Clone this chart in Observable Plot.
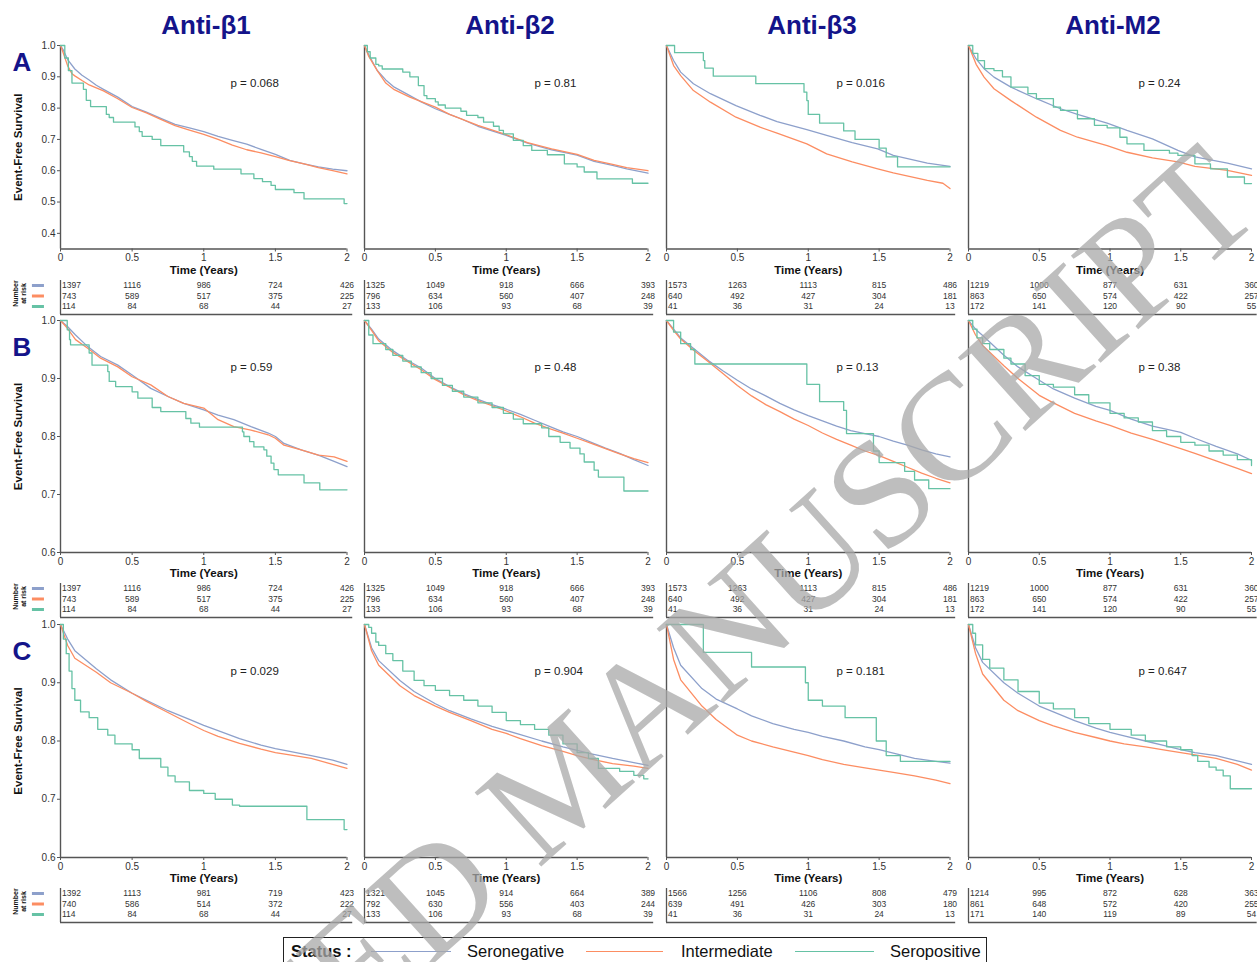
<!DOCTYPE html>
<html><head><meta charset="utf-8">
<script src="https://cdn.jsdelivr.net/npm/d3@7"></script>
<script src="https://cdn.jsdelivr.net/npm/@observablehq/plot@0.6"></script>
<style>
html,body{margin:0;padding:0;background:#fff;}
body{width:1257px;height:962px;overflow:hidden;position:relative;font-family:"Liberation Sans",Arial,sans-serif;}
#root{position:absolute;left:0;top:0;width:1257px;height:962px;}
.ttl{position:absolute;transform:translate(-50%,-50%);font-weight:bold;font-size:26px;color:#14148a;white-space:nowrap;}
.lg{position:absolute;top:937px;left:283px;width:704px;height:30px;border:1px solid #222;box-sizing:border-box;}
.lg span{position:absolute;top:13px;transform:translateY(-50%);font-size:16.5px;color:#111;white-space:nowrap;}
.lg .key{position:absolute;top:12.5px;height:1.5px;}
#wm{position:absolute;left:0;top:0;pointer-events:none;}
</style></head>
<body><div id="root"></div>
<script>
// ---------- data ----------
const antibodies = ["Anti-β1", "Anti-β2", "Anti-β3", "Anti-M2"];
const rowLabels = ["A", "B", "C"];
const statuses = ["Seronegative", "Intermediate", "Seropositive"];
const statusColors = ["#8da0cb", "#fc8d62", "#66c2a5"];
const xTicks = [0, 0.5, 1, 1.5, 2];
const yTicksA = [0.4, 0.5, 0.6, 0.7, 0.8, 0.9, 1.0];
const yTicksBC = [0.6, 0.7, 0.8, 0.9, 1.0];
const pValues = [
  ["p = 0.068", "p = 0.81", "p = 0.016", "p = 0.24"],
  ["p = 0.59", "p = 0.48", "p = 0.13", "p = 0.38"],
  ["p = 0.029", "p = 0.904", "p = 0.181", "p = 0.647"]
];

// Row A
const A1_neg = [[0,1],[0.02,0.985],[0.05,0.955],[0.1,0.925],[0.15,0.905],[0.2,0.89],[0.25,0.873],[0.3,0.86],[0.4,0.835],[0.5,0.805],[0.6,0.787],[0.7,0.767],[0.8,0.748],[0.9,0.737],[1.0,0.725],[1.1,0.71],[1.2,0.697],[1.3,0.685],[1.4,0.668],[1.5,0.652],[1.6,0.633],[1.7,0.622],[1.8,0.612],[1.9,0.605],[2.0,0.6]];
const A1_int = [[0,1],[0.02,0.975],[0.05,0.935],[0.08,0.91],[0.1,0.903],[0.15,0.888],[0.2,0.874],[0.3,0.855],[0.4,0.83],[0.5,0.802],[0.6,0.785],[0.7,0.764],[0.8,0.744],[0.9,0.73],[1.0,0.716],[1.1,0.7],[1.2,0.682],[1.3,0.667],[1.4,0.657],[1.5,0.645],[1.6,0.632],[1.7,0.622],[1.8,0.61],[1.9,0.6],[2.0,0.59]];
const A1_pos = [[0,1],[0.03,0.96],[0.055,0.92],[0.08,0.88],[0.16,0.86],[0.18,0.825],[0.21,0.805],[0.32,0.78],[0.34,0.77],[0.37,0.755],[0.52,0.74],[0.55,0.725],[0.57,0.71],[0.64,0.70],[0.70,0.68],[0.86,0.66],[0.9,0.645],[0.92,0.63],[0.95,0.615],[1.07,0.605],[1.26,0.59],[1.35,0.575],[1.41,0.565],[1.47,0.553],[1.5,0.54],[1.63,0.53],[1.7,0.51],[1.98,0.495],[2.0,0.495]];
const A2_neg = [[0,1],[0.03,0.97],[0.09,0.92],[0.15,0.89],[0.21,0.867],[0.32,0.84],[0.4,0.82],[0.5,0.798],[0.6,0.78],[0.68,0.766],[0.8,0.742],[0.9,0.727],[1.0,0.713],[1.15,0.688],[1.32,0.667],[1.5,0.65],[1.62,0.63],[1.75,0.617],[1.85,0.606],[2.0,0.592]];
const A2_int = [[0,1],[0.03,0.965],[0.09,0.92],[0.15,0.88],[0.21,0.859],[0.32,0.835],[0.5,0.803],[0.6,0.78],[0.8,0.745],[1.0,0.715],[1.15,0.69],[1.32,0.67],[1.5,0.652],[1.62,0.633],[1.75,0.62],[1.85,0.61],[2.0,0.6]];
const A2_pos = [[0,1],[0.02,0.98],[0.04,0.96],[0.08,0.94],[0.1,0.935],[0.125,0.925],[0.27,0.915],[0.32,0.9],[0.38,0.872],[0.42,0.84],[0.44,0.83],[0.5,0.82],[0.52,0.81],[0.57,0.8],[0.68,0.79],[0.72,0.777],[0.8,0.77],[0.84,0.755],[0.91,0.742],[0.95,0.729],[0.98,0.718],[1.05,0.697],[1.12,0.68],[1.18,0.665],[1.29,0.651],[1.41,0.622],[1.5,0.612],[1.55,0.596],[1.64,0.574],[1.89,0.56],[2.0,0.56]];
const A3_neg = [[0,1],[0.05,0.952],[0.1,0.915],[0.19,0.878],[0.31,0.846],[0.49,0.808],[0.66,0.777],[0.78,0.757],[0.99,0.731],[1.13,0.713],[1.31,0.69],[1.49,0.67],[1.6,0.649],[1.84,0.624],[2.0,0.614]];
const A3_int = [[0,1],[0.05,0.936],[0.1,0.904],[0.19,0.856],[0.31,0.819],[0.49,0.771],[0.66,0.739],[0.78,0.72],[0.99,0.686],[1.13,0.654],[1.31,0.628],[1.49,0.606],[1.6,0.593],[1.84,0.569],[1.95,0.56],[2.0,0.543]];
const A3_pos = [[0,1],[0.057,0.977],[0.26,0.952],[0.27,0.928],[0.33,0.902],[0.63,0.878],[0.97,0.851],[0.99,0.824],[1.0,0.78],[1.08,0.752],[1.25,0.727],[1.33,0.70],[1.5,0.672],[1.55,0.644],[1.63,0.612],[2.0,0.612]];
const A4_neg = [[0,1],[0.054,0.957],[0.11,0.926],[0.18,0.899],[0.3,0.867],[0.48,0.83],[0.65,0.798],[0.77,0.78],[0.98,0.752],[1.12,0.729],[1.3,0.702],[1.48,0.665],[1.6,0.644],[1.83,0.624],[2.0,0.606]];
const A4_int = [[0,1],[0.054,0.94],[0.11,0.899],[0.18,0.862],[0.3,0.824],[0.48,0.771],[0.65,0.729],[0.77,0.707],[0.98,0.68],[1.12,0.659],[1.3,0.641],[1.48,0.628],[1.6,0.614],[1.83,0.601],[2.0,0.585]];
const A4_pos = [[0,1],[0.03,0.975],[0.066,0.952],[0.113,0.926],[0.18,0.92],[0.24,0.9],[0.3,0.867],[0.42,0.846],[0.48,0.83],[0.6,0.803],[0.65,0.793],[0.77,0.766],[0.89,0.745],[0.98,0.737],[1.07,0.707],[1.12,0.686],[1.24,0.665],[1.42,0.656],[1.48,0.649],[1.6,0.622],[1.71,0.606],[1.83,0.58],[1.95,0.559],[2.0,0.559]];

// Row B
const B1_neg = [[0,1],[0.047,0.99],[0.105,0.975],[0.19,0.955],[0.28,0.938],[0.4,0.923],[0.5,0.906],[0.63,0.883],[0.75,0.869],[0.86,0.857],[1.0,0.846],[1.1,0.837],[1.21,0.829],[1.33,0.817],[1.45,0.806],[1.5,0.8],[1.56,0.788],[1.68,0.777],[1.8,0.768],[1.91,0.757],[2.0,0.748]];
const B1_int = [[0,1],[0.047,0.987],[0.105,0.967],[0.19,0.952],[0.28,0.935],[0.4,0.92],[0.5,0.903],[0.63,0.889],[0.75,0.869],[0.86,0.857],[1.0,0.849],[1.1,0.829],[1.21,0.817],[1.33,0.811],[1.45,0.803],[1.5,0.797],[1.56,0.785],[1.68,0.777],[1.8,0.768],[1.91,0.765],[2.0,0.757]];
const B1_pos = [[0,1],[0.047,0.984],[0.063,0.967],[0.07,0.958],[0.2,0.944],[0.22,0.923],[0.33,0.912],[0.34,0.895],[0.385,0.886],[0.5,0.877],[0.54,0.866],[0.64,0.85],[0.7,0.843],[0.875,0.831],[0.91,0.823],[0.97,0.816],[1.27,0.808],[1.28,0.8],[1.32,0.791],[1.35,0.782],[1.42,0.777],[1.44,0.766],[1.47,0.754],[1.49,0.743],[1.52,0.734],[1.7,0.72],[1.81,0.708],[2.0,0.708]];
const B2_neg = [[0,1],[0.05,0.985],[0.1,0.968],[0.2,0.948],[0.3,0.932],[0.4,0.918],[0.5,0.9],[0.6,0.886],[0.7,0.874],[0.8,0.864],[0.9,0.855],[1.0,0.847],[1.1,0.838],[1.2,0.828],[1.3,0.818],[1.4,0.808],[1.5,0.8],[1.6,0.79],[1.7,0.78],[1.8,0.771],[1.9,0.76],[2.0,0.75]];
const B2_int = [[0,1],[0.05,0.983],[0.1,0.965],[0.2,0.945],[0.3,0.93],[0.4,0.915],[0.5,0.898],[0.6,0.885],[0.7,0.872],[0.8,0.862],[0.9,0.853],[1.0,0.844],[1.1,0.834],[1.2,0.823],[1.3,0.814],[1.4,0.806],[1.5,0.797],[1.6,0.788],[1.7,0.779],[1.8,0.77],[1.9,0.762],[2.0,0.755]];
const B2_pos = [[0,1],[0.03,0.975],[0.06,0.96],[0.15,0.95],[0.2,0.94],[0.27,0.93],[0.33,0.92],[0.4,0.91],[0.47,0.9],[0.55,0.888],[0.62,0.878],[0.7,0.868],[0.8,0.858],[0.9,0.85],[0.98,0.84],[1.05,0.83],[1.12,0.822],[1.25,0.815],[1.3,0.8],[1.38,0.79],[1.45,0.78],[1.52,0.77],[1.55,0.756],[1.62,0.742],[1.65,0.73],[1.83,0.706],[2.0,0.706]];
const B3_neg = [[0,1],[0.05,0.985],[0.1,0.97],[0.2,0.95],[0.3,0.93],[0.4,0.913],[0.5,0.897],[0.6,0.882],[0.7,0.87],[0.8,0.857],[0.9,0.846],[1.0,0.836],[1.1,0.827],[1.2,0.818],[1.3,0.81],[1.4,0.805],[1.5,0.8],[1.6,0.792],[1.7,0.785],[1.8,0.777],[1.9,0.77],[2.0,0.765]];
const B3_int = [[0,1],[0.05,0.983],[0.1,0.968],[0.2,0.947],[0.3,0.928],[0.4,0.908],[0.5,0.888],[0.6,0.87],[0.7,0.855],[0.8,0.843],[0.9,0.83],[1.0,0.819],[1.1,0.806],[1.2,0.795],[1.3,0.785],[1.4,0.775],[1.5,0.767],[1.6,0.757],[1.7,0.747],[1.8,0.737],[1.9,0.728],[2.0,0.72]];
const B3_pos = [[0,1],[0.05,0.98],[0.1,0.96],[0.17,0.95],[0.2,0.925],[0.99,0.89],[1.08,0.86],[1.25,0.845],[1.27,0.805],[1.46,0.775],[1.5,0.755],[1.68,0.74],[1.75,0.725],[1.85,0.71],[2.0,0.71]];
const B4_neg = [[0,1],[0.05,0.985],[0.1,0.974],[0.25,0.94],[0.35,0.92],[0.5,0.897],[0.6,0.882],[0.75,0.866],[0.9,0.852],[1.0,0.845],[1.15,0.83],[1.3,0.818],[1.5,0.807],[1.6,0.797],[1.75,0.783],[1.9,0.77],[2.0,0.759]];
const B4_int = [[0,1],[0.05,0.975],[0.1,0.957],[0.25,0.922],[0.35,0.9],[0.5,0.871],[0.6,0.858],[0.75,0.84],[0.9,0.827],[1.0,0.819],[1.15,0.806],[1.3,0.795],[1.5,0.779],[1.6,0.771],[1.75,0.758],[1.9,0.745],[2.0,0.736]];
const B4_pos = [[0,1],[0.03,0.985],[0.06,0.97],[0.1,0.96],[0.15,0.95],[0.25,0.935],[0.3,0.925],[0.4,0.905],[0.5,0.89],[0.6,0.885],[0.75,0.872],[0.85,0.858],[1.0,0.84],[1.1,0.832],[1.2,0.825],[1.3,0.81],[1.4,0.8],[1.5,0.79],[1.6,0.785],[1.7,0.775],[1.8,0.768],[1.9,0.76],[2.0,0.75]];

// Row C
const C1_neg = [[0,1],[0.05,0.975],[0.1,0.955],[0.25,0.924],[0.35,0.905],[0.5,0.882],[0.6,0.87],[0.75,0.852],[0.9,0.837],[1.0,0.827],[1.1,0.818],[1.25,0.804],[1.4,0.793],[1.5,0.787],[1.6,0.782],[1.75,0.775],[1.9,0.767],[2.0,0.76]];
const C1_int = [[0,1],[0.05,0.964],[0.1,0.942],[0.25,0.918],[0.35,0.9],[0.5,0.882],[0.6,0.868],[0.75,0.849],[0.9,0.83],[1.0,0.818],[1.1,0.808],[1.25,0.796],[1.4,0.786],[1.5,0.78],[1.6,0.776],[1.75,0.77],[1.9,0.76],[2.0,0.753]];
const C1_pos = [[0,1],[0.02,0.975],[0.04,0.95],[0.06,0.92],[0.08,0.89],[0.1,0.87],[0.14,0.85],[0.2,0.84],[0.26,0.82],[0.33,0.81],[0.38,0.795],[0.5,0.785],[0.55,0.77],[0.7,0.755],[0.75,0.74],[0.8,0.73],[0.9,0.715],[1.0,0.71],[1.08,0.7],[1.2,0.69],[1.25,0.688],[1.72,0.665],[1.98,0.648],[2.0,0.648]];
const C2_neg = [[0,1],[0.05,0.96],[0.1,0.938],[0.25,0.904],[0.35,0.885],[0.5,0.864],[0.6,0.852],[0.75,0.838],[0.9,0.825],[1.0,0.818],[1.1,0.811],[1.25,0.8],[1.4,0.79],[1.5,0.784],[1.6,0.778],[1.75,0.77],[1.9,0.763],[2.0,0.758]];
const C2_int = [[0,1],[0.05,0.955],[0.1,0.93],[0.25,0.895],[0.35,0.878],[0.5,0.86],[0.6,0.849],[0.75,0.835],[0.9,0.82],[1.0,0.813],[1.1,0.804],[1.25,0.792],[1.4,0.782],[1.5,0.775],[1.6,0.769],[1.75,0.761],[1.9,0.757],[2.0,0.753]];
const C2_pos = [[0,1],[0.03,0.995],[0.05,0.985],[0.08,0.97],[0.1,0.964],[0.15,0.95],[0.2,0.938],[0.27,0.92],[0.35,0.904],[0.42,0.895],[0.5,0.887],[0.6,0.878],[0.7,0.87],[0.8,0.86],[0.9,0.849],[1.0,0.835],[1.1,0.828],[1.2,0.82],[1.3,0.81],[1.4,0.795],[1.5,0.78],[1.58,0.77],[1.65,0.753],[1.8,0.748],[1.9,0.741],[1.97,0.735],[2.0,0.735]];
const C3_neg = [[0,1],[0.05,0.96],[0.1,0.93],[0.25,0.89],[0.35,0.872],[0.5,0.855],[0.6,0.843],[0.75,0.83],[0.9,0.82],[1.0,0.815],[1.1,0.808],[1.25,0.8],[1.4,0.79],[1.5,0.785],[1.6,0.779],[1.75,0.77],[1.9,0.765],[2.0,0.762]];
const C3_int = [[0,1],[0.05,0.94],[0.1,0.905],[0.25,0.86],[0.35,0.837],[0.5,0.81],[0.6,0.8],[0.75,0.79],[0.9,0.781],[1.0,0.775],[1.1,0.768],[1.25,0.76],[1.4,0.754],[1.5,0.75],[1.6,0.746],[1.75,0.74],[1.9,0.733],[2.0,0.727]];
const C3_pos = [[0,1],[0.26,0.952],[0.6,0.927],[0.98,0.9],[1.0,0.87],[1.1,0.86],[1.26,0.84],[1.48,0.8],[1.55,0.775],[1.65,0.765],[2.0,0.765]];
const C4_neg = [[0,1],[0.05,0.96],[0.1,0.935],[0.25,0.9],[0.35,0.882],[0.5,0.86],[0.6,0.85],[0.75,0.835],[0.9,0.822],[1.0,0.815],[1.1,0.809],[1.25,0.8],[1.4,0.791],[1.5,0.785],[1.6,0.78],[1.75,0.775],[1.9,0.766],[2.0,0.76]];
const C4_int = [[0,1],[0.05,0.95],[0.1,0.915],[0.25,0.87],[0.35,0.852],[0.5,0.835],[0.6,0.826],[0.75,0.815],[0.9,0.806],[1.0,0.8],[1.1,0.795],[1.25,0.79],[1.4,0.784],[1.5,0.78],[1.6,0.776],[1.75,0.77],[1.9,0.76],[2.0,0.75]];
const C4_pos = [[0,1],[0.03,0.985],[0.05,0.965],[0.1,0.94],[0.15,0.925],[0.25,0.905],[0.35,0.885],[0.5,0.865],[0.6,0.855],[0.75,0.84],[0.85,0.83],[1.0,0.82],[1.15,0.81],[1.25,0.8],[1.4,0.79],[1.5,0.785],[1.58,0.775],[1.62,0.765],[1.7,0.755],[1.75,0.75],[1.8,0.74],[1.85,0.718],[2.0,0.718]];

// Numbers at risk (rows: seronegative, intermediate, seropositive; columns: t = 0, 0.5, 1, 1.5, 2)
const A1_risk = [[1397,1116,986,724,426],[743,589,517,375,225],[114,84,68,44,27]];
const A2_risk = [[1325,1049,918,666,393],[796,634,560,407,248],[133,106,93,68,39]];
const A3_risk = [[1573,1263,1113,815,486],[640,492,427,304,181],[41,36,31,24,13]];
const A4_risk = [[1219,1000,877,631,360],[863,650,574,422,257],[172,141,120,90,55]];
const B1_risk = [[1397,1116,986,724,426],[743,589,517,375,225],[114,84,68,44,27]];
const B2_risk = [[1325,1049,918,666,393],[796,634,560,407,248],[133,106,93,68,39]];
const B3_risk = [[1573,1263,1113,815,486],[640,492,427,304,181],[41,36,31,24,13]];
const B4_risk = [[1219,1000,877,631,360],[863,650,574,422,257],[172,141,120,90,55]];
const C1_risk = [[1392,1113,981,719,423],[740,586,514,372,222],[114,84,68,44,27]];
const C2_risk = [[1321,1045,914,664,389],[792,630,556,403,244],[133,106,93,68,39]];
const C3_risk = [[1566,1256,1106,808,479],[639,491,426,303,180],[41,36,31,24,13]];
const C4_risk = [[1214,995,872,628,363],[861,648,572,420,255],[171,140,119,89,54]];

const curves = [
  [[A1_neg,A1_int,A1_pos],[A2_neg,A2_int,A2_pos],[A3_neg,A3_int,A3_pos],[A4_neg,A4_int,A4_pos]],
  [[B1_neg,B1_int,B1_pos],[B2_neg,B2_int,B2_pos],[B3_neg,B3_int,B3_pos],[B4_neg,B4_int,B4_pos]],
  [[C1_neg,C1_int,C1_pos],[C2_neg,C2_int,C2_pos],[C3_neg,C3_int,C3_pos],[C4_neg,C4_int,C4_pos]]
];
const risks = [
  [A1_risk,A2_risk,A3_risk,A4_risk],
  [B1_risk,B2_risk,B3_risk,B4_risk],
  [C1_risk,C2_risk,C3_risk,C4_risk]
];

// ---------- layout ----------
const X0 = [60, 364, 666, 968], X2 = [346.5, 647.5, 949.5, 1251];
const YTOP = [45, 320, 624], YBOT = [248.5, 552, 857];
const axisColor = "#555";
const FONT = "'Liberation Sans', Arial, sans-serif";
const NARROW = "'Liberation Sans Narrow', 'Liberation Sans', Arial, sans-serif";
const root = document.getElementById("root");
function place(el, left, top) {
  el.style.position = "absolute";
  el.style.left = left + "px";
  el.style.top = top + "px";
  root.appendChild(el);
}
const baseStyle = {fontFamily: FONT, fontSize: "10px", color: "#333", background: "none", overflow: "visible", maxWidth: "none"};

function panel(r, c) {
  const ml = c === 0 ? 60 : 14, mr = 12, mt = 8, mb = 34;
  const w = X2[c] - X0[c], h = YBOT[r] - YTOP[r];
  const ydom = r === 0 ? [0.35, 1] : [0.6, 1];
  const yt = r === 0 ? yTicksA : yTicksBC;
  const marks = [
    Plot.ruleX([0], {stroke: axisColor, strokeWidth: 1.4}),
    Plot.ruleY([ydom[0]], {stroke: axisColor, strokeWidth: 1.4}),
    Plot.axisX(xTicks, {tickFormat: d => String(d), tickSize: 3, tickPadding: 2, stroke: axisColor, fill: "#333", fontSize: 10, label: null}),
    Plot.text(["Time (Years)"], {frameAnchor: "bottom", dy: 21, lineAnchor: "middle", textAnchor: "middle", fontWeight: "bold", fontSize: 11.5, fill: "#111"}),
    ...[0, 1, 2].map(i => Plot.line(curves[r][c][i].map(([t, s]) => ({t, s, status: statuses[i]})),
      {x: "t", y: "s", stroke: statusColors[i], strokeWidth: 1.3, curve: i === 2 ? "step-after" : "linear"})),
    Plot.text([pValues[r][c]], {frameAnchor: "top-left", dx: 170, dy: r === 0 ? 38 : 47, lineAnchor: "middle", textAnchor: "start", fontSize: 11.5, fill: "#222"})
  ];
  if (c === 0) {
    marks.push(Plot.axisY(yt, {tickFormat: d3.format(".1f"), tickSize: 3, tickPadding: 2, stroke: axisColor, fill: "#333", fontSize: 10, label: null}));
    marks.push(Plot.text(["Event-Free Survival"], {frameAnchor: "left", dx: -42, rotate: -90, textAnchor: "middle", lineAnchor: "middle", fontWeight: "bold", fontSize: 11.5, fill: "#111"}));
  }
  const svg = Plot.plot({
    width: ml + w + mr, height: mt + h + mb,
    marginLeft: ml, marginRight: mr, marginTop: mt, marginBottom: mb,
    x: {domain: [0, 2]},
    y: c === 0 ? {domain: ydom} : {domain: ydom, axis: null},
    style: baseStyle,
    marks
  });
  place(svg, X0[c] - ml, YTOP[r] - mt);
}

function table(r, c) {
  const ml = c === 0 ? 60 : 14, mr = 12;
  const w = X2[c] - X0[c];
  const rows = risks[r][c].flatMap((arr, i) => arr.map((n, j) => ({t: xTicks[j], n, k: i})));
  const lbl = d => String(d.n);
  const marks = [
    Plot.ruleX([0], {stroke: axisColor, strokeWidth: 1.3}),
    Plot.ruleY([2.762], {x1: 0, x2: 2.04, stroke: axisColor, strokeWidth: 1.3}),
    Plot.text(rows.filter(d => d.t === 0), {x: "t", y: "k", text: lbl, textAnchor: "start", dx: 1.5, fontSize: 8.5, fontFamily: NARROW, fill: "#333"}),
    Plot.text(rows.filter(d => d.t > 0), {x: "t", y: "k", text: lbl, textAnchor: "middle", fontSize: 8.5, fontFamily: NARROW, fill: "#333"})
  ];
  if (c === 0) {
    [0, 1, 2].forEach(i => marks.push(Plot.ruleY([i], {x1: -0.196, x2: -0.112, stroke: statusColors[i], strokeWidth: 3})));
    marks.push(Plot.text(["Number\nat risk"], {frameAnchor: "left", dx: -41, dy: -4, rotate: -90, textAnchor: "middle", lineAnchor: "middle", lineHeight: 1.15, fontWeight: "bold", fontSize: 7, fill: "#111"}));
  }
  const svg = Plot.plot({
    width: ml + w + mr, height: 40,
    marginLeft: ml, marginRight: mr, marginTop: 2, marginBottom: 4,
    x: {domain: [0, 2], axis: null},
    y: {domain: [-0.476, 2.762], reverse: true, axis: null},
    style: baseStyle,
    marks
  });
  place(svg, X0[c] - ml, YBOT[r] + 29);
}

for (let r = 0; r < 3; r++) for (let c = 0; c < 4; c++) { panel(r, c); table(r, c); }

// column titles and row letters
const titleX = [206, 510, 812, 1113];
antibodies.forEach((t, c) => {
  const d = document.createElement("div");
  d.className = "ttl"; d.textContent = t;
  d.style.left = titleX[c] + "px"; d.style.top = "25px";
  root.appendChild(d);
});
const letterY = [62, 347, 651];
rowLabels.forEach((t, r) => {
  const d = document.createElement("div");
  d.className = "ttl"; d.textContent = t;
  d.style.left = "22px"; d.style.top = letterY[r] + "px";
  root.appendChild(d);
});

// legend
const lg = document.createElement("div");
lg.className = "lg";
const lgItems = [[87, 80, 183], [302, 77, 397], [511, 79, 606]];
let html = '<span style="left:7px;font-weight:bold">Status :</span>';
statuses.forEach((s, i) => {
  const [lx, lw, tx] = lgItems[i];
  html += `<div class="key" style="left:${lx}px;width:${lw}px;background:${statusColors[i]}"></div><span style="left:${tx}px">${s}</span>`;
});
lg.innerHTML = html;
root.appendChild(lg);

// watermark
const wm = d3.select(root).append("svg").attr("id", "wm").attr("width", 1257).attr("height", 962);
wm.append("text")
  .attr("transform", "translate(1266,214) rotate(-42)")
  .attr("text-anchor", "end")
  .attr("font-family", "'Liberation Serif','Times New Roman',serif")
  .attr("font-size", 152)
  .attr("fill", "#a8a8a8")
  .attr("fill-opacity", 0.75)
  .text("ACCEPTED MANUSCRIPT");
</script>
</body></html>
